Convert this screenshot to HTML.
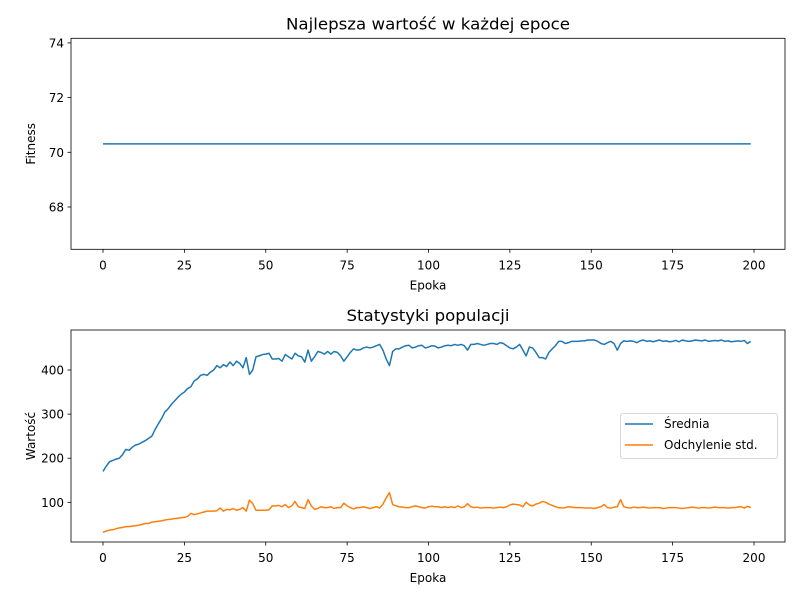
<!DOCTYPE html>
<html><head><meta charset="utf-8"><style>
body{margin:0;background:#fff}
text{font-family:"DejaVu Sans","Liberation Sans",sans-serif;fill:#000}
</style></head><body>
<svg id="c" width="800" height="600" xmlns="http://www.w3.org/2000/svg">
<rect width="800" height="600" fill="#fff"/>
</svg>
<script>
const epochsCount = 200;
const bestFitness = [70.31];
const meanVals = [
170,182,192,195,198,200,208,220,218,225,
230,232,236,240,245,250,265,278,290,305,
312,322,330,338,345,350,358,362,375,380,
388,390,388,395,400,410,405,412,408,418,
410,420,415,405,428,390,400,430,432,435,
436,438,425,425,426,420,435,430,425,438,
432,430,418,445,420,430,442,440,436,442,
436,442,440,432,420,430,440,448,445,446,
450,452,450,452,455,458,445,425,410,442,
448,448,452,455,456,450,452,455,456,450,
452,455,454,450,452,455,456,455,458,456,
458,455,445,458,458,460,458,456,458,460,
460,458,462,460,455,450,448,452,458,445,
432,452,450,440,428,428,425,440,448,455,
465,465,460,462,465,465,465,466,466,468,
468,468,465,460,458,462,465,460,445,460,
466,465,466,465,462,466,468,465,466,464,
466,468,465,466,464,465,467,464,468,466,
465,466,468,467,466,468,465,466,467,466,
468,465,466,464,465,466,465,467,460,465];
const stdVals = [
32,35,37,38,40,42,43,45,45,46,
47,48,50,52,52,55,56,57,58,60,
61,62,63,64,65,66,68,75,72,74,
76,78,80,80,80,81,87,80,84,83,
86,82,84,88,80,105,97,82,82,82,
82,83,92,92,93,90,95,88,92,102,
90,88,86,106,92,84,86,90,88,88,
90,86,88,88,98,92,88,85,88,88,
90,88,86,88,90,87,96,110,122,95,
92,90,89,88,88,90,92,90,88,87,
90,91,90,90,88,90,88,90,88,92,
88,90,97,90,88,89,87,88,88,88,
87,88,89,88,90,94,96,95,94,90,
100,94,92,96,98,102,100,96,93,90,
88,87,88,90,89,88,88,88,87,87,
87,86,88,90,95,88,87,89,90,106,
90,88,87,89,88,88,89,88,87,88,
88,88,86,87,88,88,88,87,86,87,
88,89,88,87,88,88,87,88,89,88,
88,88,87,88,88,89,90,87,91,88];
const xTicks = [0,25,50,75,100,125,150,175,200];
const topYTicks = [68,70,72,74];
const botYTicks = [100,200,300,400];

const NS="http://www.w3.org/2000/svg";
const svg=document.getElementById('c');
function el(tag,attrs,parent,txt){const e=document.createElementNS(NS,tag);for(const k in attrs)e.setAttribute(k,attrs[k]);if(txt!==undefined)e.textContent=txt;(parent||svg).appendChild(e);return e;}
const L=71,R=785;
const xs=v=>103+(v-0)*(754-103)/200;
function yTop(v){return 152.3-(v-70)*27.35;}
function yBot(v){return 370-(v-400)*0.4411;}

function axes(top,bot,yfun,yticks,title,titleW,ylabel,name){
  const g=el('g',{});
  
  
  xTicks.forEach(t=>{
    el('line',{x1:xs(t),x2:xs(t),y1:bot,y2:bot+3.5,stroke:'#000','stroke-width':0.8},g);
    const tx=el('text',{x:xs(t),y:bot+20,'font-size':12,'text-anchor':'middle'},g,String(t));
    
    
  });
  yticks.forEach(t=>{
    el('line',{x1:L-3.5,x2:L,y1:yfun(t),y2:yfun(t),stroke:'#000','stroke-width':0.8},g);
    const tx=el('text',{x:L-7,y:yfun(t)+4.5,'font-size':12,'text-anchor':'end'},g,String(t));
    
    
  });
  const t1=el('text',{x:(L+R)/2,y:top-9,'font-size':16,'text-anchor':'middle',textLength:titleW,lengthAdjust:'spacingAndGlyphs'},g,title);
  
  
  const t2=el('text',{x:(L+R)/2,y:bot+40,'font-size':12,'text-anchor':'middle'},g,'Epoka');
  
  
  const cy=(top+bot)/2;
  const t3=el('text',{x:0,y:0,'font-size':12,'text-anchor':'middle',transform:`translate(35,${cy}) rotate(-90)`},g,ylabel);
  
  
  return g;
}
function frame(top,bot){
  el('rect',{x:L,y:top,width:R-L,height:bot-top,fill:'none',stroke:'#000','stroke-width':0.8});
}
function poly(vals,yfun,color,name){
  const pts=vals.map((v,i)=>xs(i).toFixed(2)+','+yfun(v).toFixed(2)).join(' ');
  const p=el('polyline',{points:pts,fill:'none',stroke:color,'stroke-width':1.5,'stroke-linejoin':'round'});
  
  
}
// top chart
axes(38.3,249.3,yTop,topYTicks,'Najlepsza wartość w każdej epoce',284,'Fitness','top-axes');
const bestLine=[];for(let i=0;i<epochsCount;i++)bestLine.push(bestFitness[0]);
poly(bestLine,yTop,'#1f77b4','best-fitness-line');
frame(38.3,249.3);
// bottom chart
axes(330,542,yBot,botYTicks,'Statystyki populacji',163,'Wartość','bottom-axes');
poly(meanVals,yBot,'#1f77b4','mean-line');
poly(stdVals,yBot,'#ff7f0e','std-line');
frame(330,542);
// legend
const lg=el('g',{});


el('rect',{x:620.5,y:413.5,width:157,height:45,rx:2.5,fill:'#fff','fill-opacity':0.8,stroke:'#ccc','stroke-width':0.8},lg);
el('line',{x1:625,x2:653,y1:424,y2:424,stroke:'#1f77b4','stroke-width':1.5},lg);
el('line',{x1:625,x2:653,y1:445,y2:445,stroke:'#ff7f0e','stroke-width':1.5},lg);
const l1=el('text',{x:664,y:428,'font-size':12},lg,'Średnia');


const l2=el('text',{x:664,y:449,'font-size':12},lg,'Odchylenie std.');


</script>
</body></html>
